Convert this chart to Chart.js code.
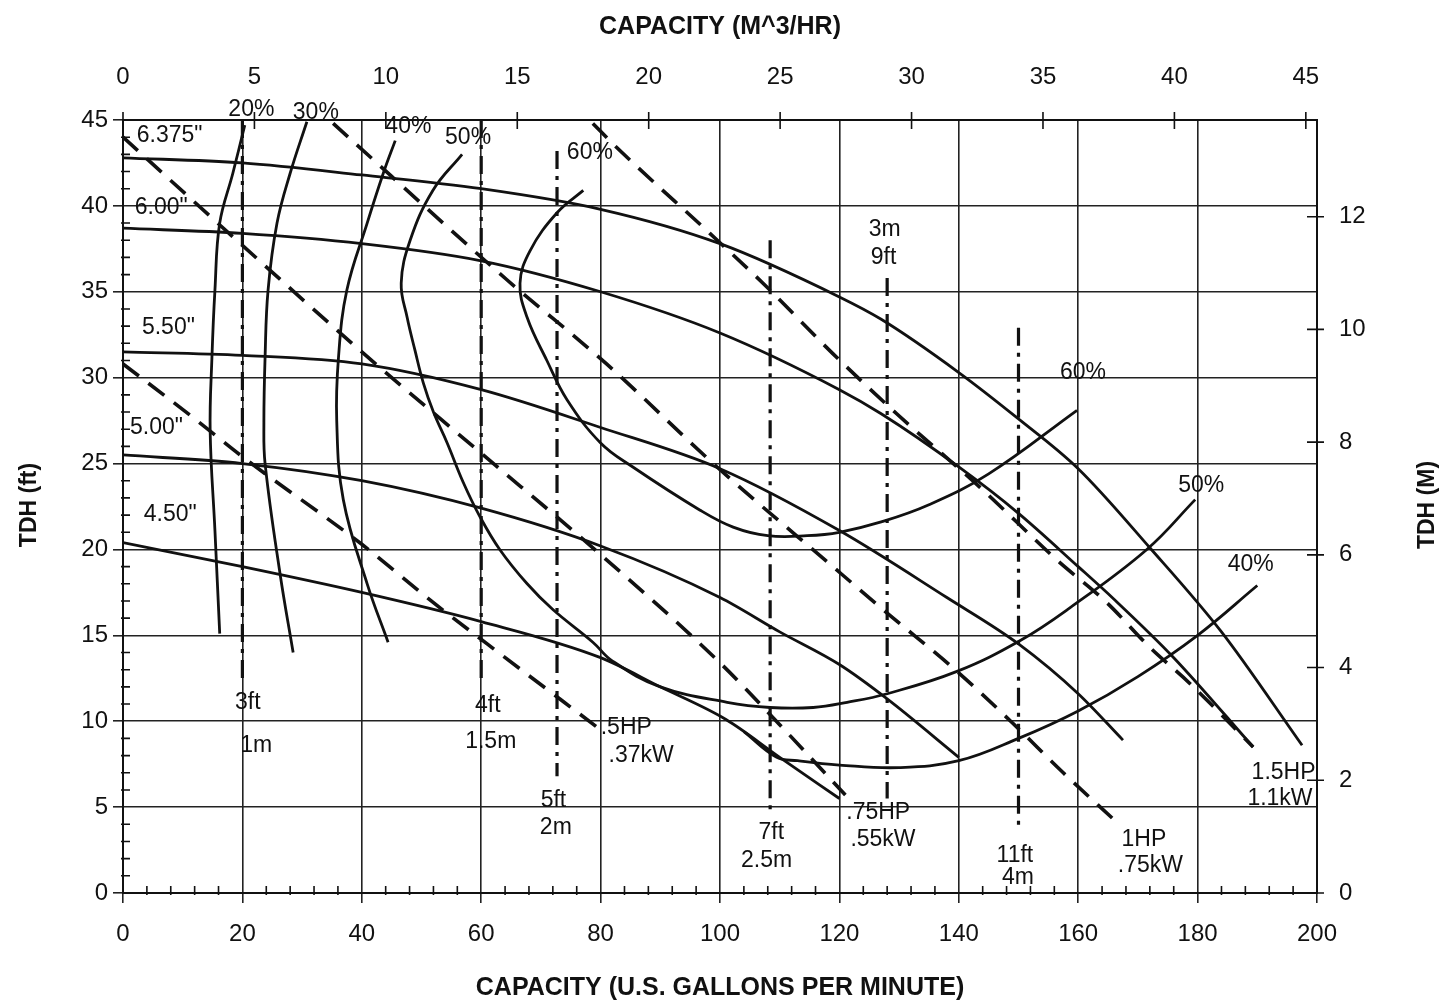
<!DOCTYPE html>
<html>
<head>
<meta charset="utf-8">
<script src="https://cdn.jsdelivr.net/npm/chart.js@4"></script>
<style>
  html, body { margin: 0; padding: 0; background: #fff; }
  canvas { display: block; }
</style>
</head>
<body>
<canvas id="pumpChart" width="1443" height="1003"></canvas>
<script>
// impeller curves: flow (gpm) / head (ft)
const imp6375Gpm = [0, 20, 40, 60, 80, 100, 120, 127, 140, 150, 160, 172, 184, 197.5];
const imp6375Ft  = [42.8, 42.5, 41.8, 41.0, 39.8, 37.8, 34.7, 33.4, 30.3, 27.6, 24.7, 20.1, 15.2, 8.6];
const imp600Gpm = [0, 20, 40, 60, 80, 100, 120, 127, 140, 150, 160, 166, 176, 189.3];
const imp600Ft  = [38.7, 38.4, 37.8, 36.8, 35.0, 32.6, 29.3, 27.9, 24.8, 22.1, 19.0, 17.1, 13.7, 8.5];
const imp550Gpm = [0, 20, 40, 60, 80, 100, 120, 138, 150, 160, 167.5];
const imp550Ft  = [31.5, 31.3, 30.8, 29.3, 27.1, 24.7, 21.1, 17.2, 14.5, 11.6, 8.9];
const imp500Gpm = [0, 20, 40, 60, 80, 100, 110, 120, 128, 140];
const imp500Ft  = [25.5, 25.0, 24.0, 22.4, 20.2, 17.2, 15.2, 13.3, 11.3, 7.9];
const imp450Gpm = [0, 20, 40, 60, 80, 90, 101, 110, 120];
const imp450Ft  = [20.4, 19.0, 17.5, 15.8, 13.7, 12.0, 10.1, 7.9, 5.5];

// efficiency lines
const eff20Gpm = [20.4, 18.4, 16.2, 15.4, 14.9, 14.6, 15.4, 16.2];
const eff20Ft  = [44.7, 41.9, 39.0, 35.1, 31.2, 26.9, 21.1, 15.1];
const eff30Gpm = [30.8, 28.0, 25.8, 24.3, 23.8, 23.6, 23.8, 26.3, 28.5];
const eff30Ft  = [44.9, 41.9, 39.0, 35.1, 31.2, 27.4, 25.0, 18.6, 14.0];
const eff40Gpm = [45.6, 43.6, 40.9, 37.5, 36.1, 35.8, 36.9, 40.9, 44.4];
const eff40Ft  = [43.8, 41.9, 39.0, 35.1, 31.2, 27.5, 22.9, 18.0, 14.6];
const eff50Gpm = [56.8, 51.9, 48.1, 46.6, 47.6, 48.9, 50.3, 52, 54.3, 57, 59.8, 63.1, 67.7, 72, 78.7, 82, 90, 101.2, 108.4, 115.6, 121.3, 128, 139.7, 150.3, 158.6, 171.5, 179.6];
const eff50Ft  = [43.0, 40.9, 38.0, 35.5, 33.5, 31.6, 29.7, 28.0, 26.2, 23.9, 21.9, 20.0, 18.0, 16.5, 14.6, 13.5, 12.0, 11.1, 10.8, 10.8, 11.1, 11.6, 12.9, 14.7, 16.6, 20.0, 22.9];
const eff60Gpm = [77.1, 72.7, 68.2, 66.5, 67.7, 71, 74.4, 80, 85.4, 96.6, 102.2, 108, 114.6, 120, 127, 135, 145, 159.8];
const eff60Ft  = [40.9, 39.6, 37.4, 35.5, 33.5, 31.0, 28.7, 26.2, 24.8, 22.3, 21.3, 20.8, 20.8, 21.0, 21.6, 22.6, 24.4, 28.1];
const eff40bGpm = [104, 109.5, 113, 120, 130, 140, 150, 160, 170, 180, 190];
const eff40bFt  = [9.4, 7.9, 7.7, 7.45, 7.3, 7.7, 9.0, 10.6, 12.6, 15.0, 17.9];

// motor power lines (dashed)
const hp05Gpm = [0, 12.4, 20, 40, 52, 61, 80];
const hp05Ft  = [30.8, 27.5, 25.4, 20.3, 16.9, 14.5, 9.5];
const hp075Gpm = [0, 20, 40, 60, 80, 100, 110, 121];
const hp075Ft  = [44.0, 37.7, 31.5, 25.6, 19.7, 13.4, 9.8, 5.7];
const hp1Gpm = [35.2, 64.3, 81, 99.5, 118.9, 128, 139.7, 149, 157.5, 166.2];
const hp1Ft  = [44.8, 35.7, 30.8, 24.8, 19.0, 16.3, 12.9, 9.9, 7.0, 4.2];
const hp15Gpm = [78.7, 82.7, 98.3, 107.2, 118.9, 129.6, 143.6, 156.4, 164.8, 172, 178.7, 189.3];
const hp15Ft  = [44.8, 43.4, 38.4, 35.5, 31.4, 27.9, 23.6, 19.4, 16.9, 14.3, 12.2, 8.5];

// NPSH lines (dash-dot verticals)
const npshGpm = [20, 60, 72.7, 108.4, 128, 150];
const npshTopFt = [45, 45, 43.2, 38.0, 35.8, 32.9];
const npshBotFt = [12.5, 12.2, 6.8, 4.8, 5.5, 3.8];

// text on the plot (gpm, ft of the text centre)
const noteText = ['6.375"', '6.00"', '5.50"', '5.00"', '4.50"',
  '20%', '30%', '40%', '50%', '60%', '60%', '50%', '40%',
  '3ft', '1m', '4ft', '1.5m', '5ft', '2m', '7ft', '2.5m', '3m', '9ft', '11ft', '4m',
  '.5HP', '.37kW', '.75HP', '.55kW', '1HP', '.75kW', '1.5HP', '1.1kW'];
const noteGpm = [7.8, 6.4, 7.6, 5.6, 7.9,
  21.5, 32.3, 47.8, 57.8, 78.2, 160.8, 180.6, 188.9,
  20.9, 22.3, 61.1, 61.6, 72.1, 72.5, 108.6, 107.8, 127.6, 127.4, 149.4, 149.9,
  84.3, 86.8, 126.5, 127.3, 171.0, 172.1, 194.4, 193.8];
const noteFt = [44.1, 39.9, 32.9, 27.1, 22.0,
  45.6, 45.4, 44.6, 44.0, 43.1, 30.3, 23.7, 19.1,
  11.1, 8.6, 10.9, 8.8, 5.4, 3.8, 3.5, 1.9, 38.6, 37.0, 2.2, 0.9,
  9.6, 8.0, 4.7, 3.1, 3.1, 1.6, 7.0, 5.5];

const GPM_PER_M3H = 4.40287;
const M_PER_FT = 0.3048;
const INK = '#111';

function pts(xs, ys) {
  return xs.map((v, i) => ({ x: v, y: ys[i] }));
}

// impeller curves run left to right, so monotone keeps them smooth
function head(xs, ys) {
  return { data: pts(xs, ys), showLine: true, borderColor: INK, borderWidth: 2.8,
           pointRadius: 0, cubicInterpolationMode: 'monotone', fill: false };
}

// efficiency lines bend back on themselves
function eff(xs, ys) {
  return { data: pts(xs, ys), showLine: true, borderColor: INK, borderWidth: 2.8,
           pointRadius: 0, tension: 0.4, fill: false };
}

function power(xs, ys) {
  return { data: pts(xs, ys), showLine: true, borderColor: INK, borderWidth: 3.6,
           borderDash: [20, 12], pointRadius: 0, cubicInterpolationMode: 'monotone', fill: false };
}

const datasets = [
  head(imp6375Gpm, imp6375Ft),
  head(imp600Gpm, imp600Ft),
  head(imp550Gpm, imp550Ft),
  head(imp500Gpm, imp500Ft),
  head(imp450Gpm, imp450Ft),
  eff(eff20Gpm, eff20Ft),
  eff(eff30Gpm, eff30Ft),
  eff(eff40Gpm, eff40Ft),
  eff(eff50Gpm, eff50Ft),
  eff(eff60Gpm, eff60Ft),
  eff(eff40bGpm, eff40bFt),
  power(hp05Gpm, hp05Ft),
  power(hp075Gpm, hp075Ft),
  power(hp1Gpm, hp1Ft),
  power(hp15Gpm, hp15Ft)
];

npshGpm.forEach((q, i) => {
  datasets.push({
    data: [{ x: q, y: npshTopFt[i] }, { x: q, y: npshBotFt[i] }],
    showLine: true, borderColor: INK, borderWidth: 3.2,
    borderDash: [18, 7, 4, 7], pointRadius: 0, fill: false
  });
});

const tickFont = { family: '"Liberation Sans", Arial, sans-serif', size: 24 };

// minor ticks, cross ticks, texts and axis titles
const extras = {
  id: 'extras',
  afterDraw(chart) {
    const ctx = chart.ctx;
    const { x, y, x2, y2 } = chart.scales;
    const area = chart.chartArea;
    ctx.save();
    ctx.strokeStyle = INK;
    ctx.lineWidth = 1.6;
    ctx.beginPath();
    for (let q = 4; q < 200; q += 4) {
      if (q % 20 === 0) continue;
      const px = x.getPixelForValue(q);
      ctx.moveTo(px, area.bottom - 7);
      ctx.lineTo(px, area.bottom + 2);
    }
    for (let h = 1; h < 45; h++) {
      if (h % 5 === 0) continue;
      const py = y.getPixelForValue(h);
      ctx.moveTo(area.left - 2, py);
      ctx.lineTo(area.left + 7, py);
    }
    x2.ticks.forEach(t => {
      const px = x2.getPixelForValue(t.value);
      ctx.moveTo(px, area.top - 8);
      ctx.lineTo(px, area.top + 9);
    });
    y2.ticks.forEach(t => {
      const py = y2.getPixelForValue(t.value);
      ctx.moveTo(area.right - 10, py);
      ctx.lineTo(area.right + 7, py);
    });
    ctx.stroke();

    ctx.fillStyle = INK;
    ctx.font = '23px "Liberation Sans", Arial, sans-serif';
    ctx.textAlign = 'center';
    ctx.textBaseline = 'middle';
    noteText.forEach((t, i) => {
      ctx.fillText(t, x.getPixelForValue(noteGpm[i]), y.getPixelForValue(noteFt[i]));
    });

    ctx.font = 'bold 25px "Liberation Sans", Arial, sans-serif';
    ctx.fillText('CAPACITY (M^3/HR)', 720, 27);
    ctx.fillText('CAPACITY (U.S. GALLONS PER MINUTE)', 720, 988);
    ctx.font = 'bold 23px "Liberation Sans", Arial, sans-serif';
    ctx.translate(30, 505);
    ctx.rotate(-Math.PI / 2);
    ctx.fillText('TDH (ft)', 0, 0);
    ctx.rotate(Math.PI / 2);
    ctx.translate(1398, 0);
    ctx.rotate(-Math.PI / 2);
    ctx.fillText('TDH (M)', 0, 0);
    ctx.restore();
  }
};

new Chart(document.getElementById('pumpChart'), {
  type: 'scatter',
  data: { datasets },
  plugins: [extras],
  options: {
    responsive: false,
    animation: false,
    layout: { padding: 0 },
    plugins: { legend: { display: false }, tooltip: { enabled: false } },
    scales: {
      x: {
        type: 'linear', position: 'bottom', min: 0, max: 200,
        ticks: { stepSize: 20, color: INK, font: tickFont, padding: 17 },
        grid: { color: '#222', lineWidth: 1.6, tickLength: 10 },
        border: { display: true, color: INK, width: 2 },
        afterFit(s) { s.height = 110; }
      },
      x2: {
        type: 'linear', axis: 'x', position: 'top', min: 0, max: 200 / GPM_PER_M3H,
        ticks: { stepSize: 5, includeBounds: false, color: INK, font: tickFont, padding: 28 },
        grid: { display: false, drawTicks: false },
        border: { display: true, color: INK, width: 2 },
        afterFit(s) { s.height = 120; }
      },
      y: {
        type: 'linear', position: 'left', min: 0, max: 45,
        ticks: { stepSize: 5, color: INK, font: tickFont, padding: 5 },
        grid: { color: '#222', lineWidth: 1.6, tickLength: 10 },
        border: { display: true, color: INK, width: 2 },
        afterFit(s) { s.width = 123; }
      },
      y2: {
        type: 'linear', axis: 'y', position: 'right', min: 0, max: 45 * M_PER_FT,
        ticks: { stepSize: 2, includeBounds: false, color: INK, font: tickFont, padding: 22 },
        grid: { display: false, drawTicks: false },
        border: { display: true, color: INK, width: 2 },
        afterFit(s) { s.width = 126; }
      }
    }
  }
});
</script>
</body>
</html>
